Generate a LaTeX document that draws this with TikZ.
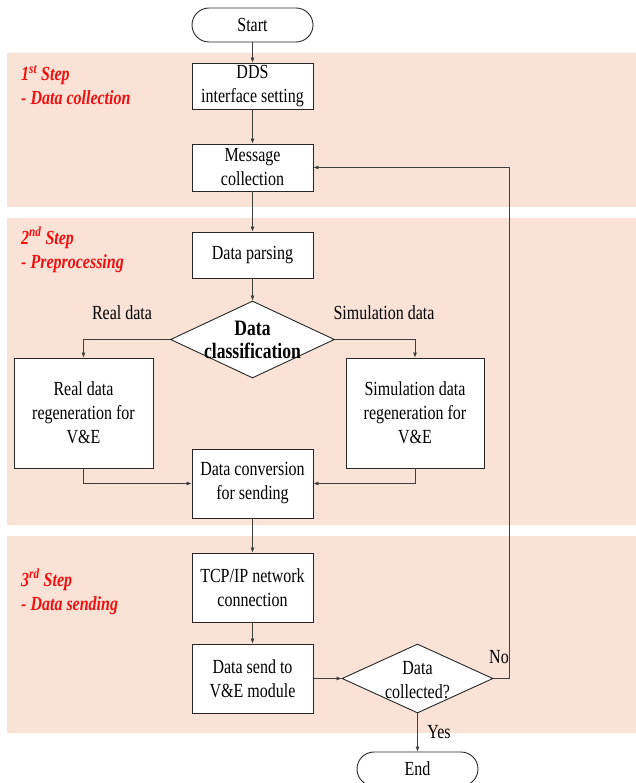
\documentclass[tikz,border=0pt]{standalone}
\usepackage{fontspec}
\setmainfont{Liberation Serif}[FakeStretch=0.8]
\usetikzlibrary{shapes.geometric,arrows.meta}
\definecolor{band}{HTML}{FAE3D6}
\definecolor{stepred}{HTML}{F01010}
\begin{document}
\begin{tikzpicture}[x=1pt,y=-1pt,
  every node/.style={font=\fontsize{20}{24}\selectfont},
  box/.style={draw=black!85,line width=0.9pt,fill=white,rectangle,inner sep=0pt,align=center,minimum width=121pt},
  term/.style={box,rounded corners=17pt,minimum height=34pt},
  dia/.style={draw=black!85,line width=0.9pt,fill=white,diamond,inner sep=0pt},
  steplbl/.style={font=\fontsize{20}{24}\selectfont\bfseries\itshape,text=stepred,align=left,anchor=west,inner sep=0pt},
  conn/.style={draw=black!75,line width=0.6pt,-{Latex[length=5pt,width=4pt]}},
  lbl/.style={inner sep=0pt}]
\useasboundingbox (0,0) rectangle (636,783);
% bands
\fill[band] (7,53) rectangle (636,207);
\fill[band] (7,218) rectangle (636,525);
\fill[band] (7,536) rectangle (636,733);
% step labels
\node[steplbl] (s1) at (21,85) {1\textsuperscript{st} Step\\- Data collection};
\node[steplbl] (s2) at (21,250) {2\textsuperscript{nd} Step\\- Preprocessing};
\node[steplbl] (s3) at (21,592) {3\textsuperscript{rd} Step\\- Data sending};
% nodes
\node[term] (start) at (252.5,25) {Start};
\node[box,minimum height=46pt] (dds) at (252.5,86) {DDS\\interface setting};
\node[box,minimum height=47pt] (msg) at (252.5,167.5) {Message\\collection};
\node[box,minimum height=46pt] (parse) at (252.5,255) {Data parsing};
\node[dia,minimum width=164pt,minimum height=77pt] (cls) at (252.5,339.5) {};
\node[font=\fontsize{22}{23}\selectfont\bfseries,align=center,inner sep=0pt] (clst) at (252.5,340) {Data\\classification};
\node[box,minimum width=139pt,minimum height=110pt] (real) at (83.5,413) {Real data\\regeneration for\\V\&E};
\node[box,minimum width=138pt,minimum height=110pt] (sim) at (415,413) {Simulation data\\regeneration for\\V\&E};
\node[box,minimum height=69pt] (conv) at (252.5,483.5) {Data conversion\\for sending};
\node[box,minimum height=69pt] (tcp) at (252.5,587.5) {TCP/IP network\\connection};
\node[box,minimum height=69pt] (send) at (252.5,678.5) {Data send to\\V\&E module};
\node[dia,minimum width=151pt,minimum height=69pt] (chk) at (417.5,678.5) {};
\node[align=center,inner sep=0pt] (chkt) at (417.5,680) {Data\\collected?};
\node[term] (end) at (417.5,769) {End};
% labels
\node[lbl] (lreal) at (122,313) {Real data};
\node[lbl] (lsim) at (384,313) {Simulation data};
\node[lbl] (lno) at (499,657) {No};
\node[lbl] (lyes) at (439,732) {Yes};
% connectors
\draw[conn] (start) -- (dds);
\draw[conn] (dds) -- (msg);
\draw[conn] (msg) -- (parse);
\draw[conn] (parse) -- (cls.north);
\draw[conn] (cls.west) -| (real.north);
\draw[conn] (cls.east) -| (sim.north);
\draw[conn] (real.south) |- (conv.west);
\draw[conn] (sim.south) |- (conv.east);
\draw[conn] (conv) -- (tcp);
\draw[conn] (tcp) -- (send);
\draw[conn] (send) -- (chk.west);
\draw[conn] (chk.south) -- (end.north);
\coordinate (fb) at (509,678.5);
\draw[conn] (chk.east) -- (fb) |- (msg.east);
\end{tikzpicture}
\end{document}
